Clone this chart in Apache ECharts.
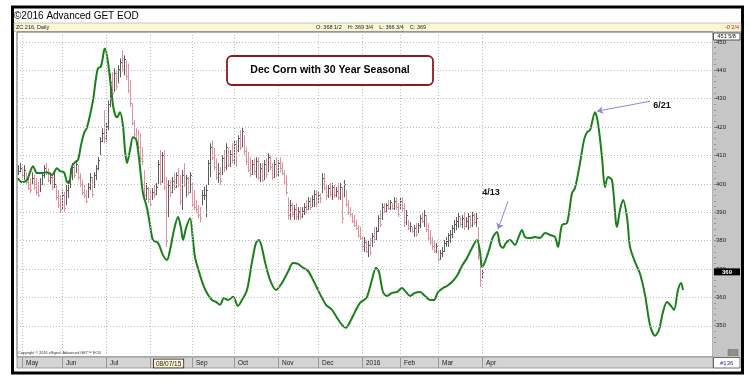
<!DOCTYPE html>
<html><head><meta charset="utf-8">
<script src="https://cdn.jsdelivr.net/npm/echarts@6/dist/echarts.min.js"></script>
<style>html,body{margin:0;padding:0;background:#fff}#c{width:750px;height:384px}</style>
</head><body><div id="c"></div>
<script>
const FONT = '"Liberation Sans", Arial, sans-serif';

// ---- price bars (daily, trading-day index; first bar = day -2, May 1 2015 = day 0)
const firstDay = -2;
const priceHigh = [
406.6,407.3,405.5,406.6,404.1,403.1,402.0,404.1,403.1,402.0,
400.6,402.0,404.1,406.6,407.3,405.5,404.1,403.1,403.8,399.6,
397.8,396.0,397.8,397.1,399.6,401.3,405.5,407.3,406.6,408.4,
406.6,403.8,401.3,399.6,397.8,400.3,403.8,402.4,404.1,406.6,
409.4,416.4,419.6,425.9,421.7,429.4,438.9,439.3,440.7,440.0,
441.8,444.2,447.0,445.3,443.5,442.4,436.5,428.4,422.4,419.6,
418.9,417.8,412.9,404.8,400.3,398.9,397.8,398.5,399.6,400.3,
408.4,411.9,411.2,411.9,402.4,401.3,401.3,402.4,403.8,404.1,
405.5,403.1,404.8,407.3,403.1,402.4,404.1,400.3,397.8,394.3,
392.5,391.8,397.8,398.9,399.6,408.4,414.3,415.4,412.6,409.0,
407.3,405.9,410.1,411.9,414.3,412.6,411.9,414.3,415.4,415.4,
417.1,418.9,419.9,417.1,412.9,411.2,409.4,408.4,409.0,409.4,
409.4,407.3,407.3,408.4,409.0,410.8,410.1,407.3,408.4,409.4,
408.4,409.4,407.6,404.8,403.1,395.3,394.3,393.2,392.5,393.2,
391.8,391.8,391.8,393.2,394.3,395.3,395.3,396.0,397.8,397.8,
397.1,396.7,403.8,403.8,399.6,399.6,400.3,400.3,399.6,398.9,
400.3,400.3,398.9,401.3,397.8,394.3,391.8,389.7,389.0,387.3,
385.5,384.8,381.3,381.3,380.2,380.2,380.9,382.7,384.8,384.8,
389.0,390.8,393.2,393.2,393.2,394.3,394.3,393.2,395.3,395.3,
393.2,395.3,395.3,393.2,390.8,387.3,386.5,384.8,385.5,386.2,
386.2,389.0,389.7,390.8,389.0,386.2,383.7,381.3,380.2,379.2,
376.7,376.7,377.8,380.2,381.3,382.7,383.7,385.5,387.3,388.3,
389.7,388.3,389.0,389.7,388.3,389.7,389.0,390.1,389.7,390.1,
384.8,374.9,369.75];
const priceLow = [
403.1,404.1,402.0,401.3,399.6,397.8,396.7,399.6,397.8,396.0,
395.3,397.1,399.6,402.0,403.1,400.6,399.6,397.8,398.5,394.3,
391.5,389.7,390.8,390.1,392.5,395.0,398.5,401.3,402.0,403.8,
401.3,398.9,396.0,395.0,393.2,395.0,397.8,395.3,398.5,401.3,
404.8,410.1,414.7,414.3,414.7,418.9,427.0,430.1,432.3,433.0,
435.4,437.5,439.3,438.2,436.5,431.9,427.0,420.6,416.1,413.6,
411.9,407.6,406.6,394.3,394.3,393.2,391.8,394.3,395.0,396.0,
399.6,399.6,400.3,397.8,377.8,388.3,395.3,396.7,397.8,398.5,
398.9,392.5,390.8,398.9,395.3,396.0,396.7,391.8,390.8,389.7,
387.9,386.5,392.5,394.3,388.3,399.6,402.4,408.4,404.8,401.3,
400.3,399.6,403.1,404.1,404.8,405.9,405.9,407.3,406.6,405.9,
411.2,411.9,412.9,410.1,406.6,404.1,402.4,403.1,403.1,402.0,
401.3,400.6,400.6,401.3,402.0,404.1,404.8,401.3,402.0,402.4,
402.4,404.1,403.1,399.6,396.0,387.3,387.3,388.3,387.3,387.3,
387.3,387.3,387.9,389.0,389.7,390.8,390.8,391.8,391.8,391.8,
393.2,393.2,396.7,397.8,394.3,395.0,395.3,394.3,395.0,395.3,
394.3,394.3,386.2,395.3,391.8,389.0,388.3,386.2,384.8,383.7,
380.9,380.2,376.7,376.0,375.6,374.2,374.9,377.8,379.2,380.2,
383.0,384.8,387.3,389.7,389.7,390.8,390.8,390.8,390.8,390.8,
388.3,390.8,390.1,384.8,385.5,383.7,383.0,382.7,381.3,381.3,
382.7,384.4,386.2,384.8,383.0,380.2,378.5,376.7,375.6,375.6,
372.5,373.2,374.2,376.0,377.8,377.8,379.2,380.9,382.7,383.7,
384.4,384.8,384.4,383.7,384.8,383.7,384.4,384.8,385.5,384.8,
373.2,363.7,366.75];
const priceClose = [
404.5,405.5,403,405,400.5,398.5,398,402,399,397,
396,400,403,405.5,404,401.5,402.5,399,400,395.5,
392.5,391,396,391.5,398,400.5,404,406,403,407,
402.5,400,397,396,394,399,402.5,396.5,403,405.5,
408.5,415,418,416,420.5,428,436,432,439,434.5,
440.5,443,440.5,444,438,433,428.5,421.5,417.5,415,
413,409,408,396,398.5,394.5,393,397,396.5,399,
407,401,410,399,380,399.5,397,401,399,403,
400,394,403,400,402,397,403,393,392,391,
389,388,396,396,398,407.5,413,409.5,406,402.5,
404,401,409,406,413,407,410.5,408.5,414,412,
416,413,418.5,411.5,408,405,403.5,407,404.5,408,
402.5,405.5,401.5,407,403.5,409.5,406,402.5,407,403.5,
407.5,405.5,404,400.5,397,389,392.5,389.5,391,388.5,
390.5,388.5,390.5,392,391,394,392,394.5,396.5,393,
396,395,402,398.5,396,398.5,396.5,399,396,397.5,
395.5,399,388,400,393,390,389.5,387,385.5,384.5,
382,381,378,379.5,376.5,378.5,376,381.5,380.5,383.5,
388,386,392,390.5,392.5,391.5,393.5,391.5,394,392,
389.5,394,391.5,386.5,389,384.5,385,383.5,384.5,382.5,
385.5,388,387,389,384,381,379.5,378,376.5,378,
373.5,375.5,376.5,379,380,382,382.5,384.5,386,387,
388.5,386,388,385,387,388.5,385.5,389,386.5,388,
375,366,369];

// ---- 30 year seasonal (trading-day index, price-scaled value)
const seasonalDay = [-2,0,2.5,4,5.5,7.5,10,12.5,15,17.5,19,21,22.5,23.5,25,26.5,28,29.5,31,32.5,
34,35.5,37,38,39.5,41,41.5,43,44.5,45.5,46.5,47.5,49,50.5,51.5,52.5,54,55.5,57,58,
59,60.5,62.5,64,65.5,68,70.5,72.5,74,76,78,79.5,80.5,82,84,85.5,86.5,88.5,91,93,
95,97,99,101,103,105.5,108,110,112.5,115,117,118.5,120,121.5,124,127,130,133,135.5,138,
140,143,145.5,147.5,149.5,152,155,157.5,160,162,164,166.5,169,171,172.5,175,177,178.5,180.5,182.5,
185,187.5,190,192,194,196.5,199,201.5,204,206,208,210.5,212.5,215,217.5,220,222.5,225,227.5,229,
230,231.5,233.5,235.5,237.5,239,240.5,242,244,246.5,248.5,250,251.5,254,256.5,259,261.5,264,266.5,268,
270,272.5,275,276.5,279,281,282.5,284,286.5,288,290,291.5,293,295,297.5,299,300.5,302.5,304,306.5,
309,311.5,314,316.5,318.5,320.5,322.5,324.5,326,328,329.5,330.5];
const seasonalValue = [402.0,400.6,401.3,404.1,406.2,403.8,403.8,404.1,403.1,405.5,404.5,404.1,400.6,400.3,406.2,407.6,408.4,413.6,417.8,419.9,
424.2,429.4,437.2,440.7,441.4,447.0,447.7,442.8,433.7,427.7,424.5,423.5,425.2,420.3,411.9,407.3,411.9,416.4,415.7,411.9,
405.9,396.7,391.5,385.5,380.2,379.2,374.9,373.2,376.7,383.7,388.3,384.4,380.2,384.4,387.9,380.2,374.2,369.0,363.7,360.9,
359.1,358.4,357.4,359.8,359.1,360.2,357.0,359.1,362.6,372.5,379.2,380.2,377.4,372.5,366.2,362.6,365.1,369.0,372.1,371.8,
370.7,369.3,366.2,363.3,360.5,357.4,355.6,352.8,350.3,349.3,351.4,354.9,358.1,359.1,360.2,366.2,370.4,369.0,361.9,360.5,
361.6,361.9,363.3,361.9,360.5,361.6,361.9,360.5,359.1,359.1,361.9,363.3,364.0,365.4,367.6,371.1,373.9,377.4,380.2,376.0,
370.7,372.5,376.7,381.3,383.0,378.5,377.4,379.2,380.2,378.5,381.6,383.7,381.3,380.9,381.3,380.9,382.7,382.0,381.3,377.8,
385.5,386.2,396.7,398.5,407.3,415.4,418.2,418.9,425.2,421.4,409.4,398.9,402.4,401.3,384.8,390.8,394.3,388.3,377.8,372.5,
368.3,360.9,350.3,346.5,348.6,354.9,358.4,357.0,355.6,362.6,365.1,362.6];

// ---- axes
const monthStart = [0,20,42,64,85,106,128,148,170,189,208,230];
const monthLabels = ['May','Jun','Jul','08/07/15','Sep','Oct','Nov','Dec','2016','Feb','Mar','Apr'];
const priceTicks = [350,360,370,380,390,400,410,420,430,440,450];
const lastClose = 369;

// ---- annotations
const noteLabels = ['4/13','6/21'];
const noteTip = [[238,384.0],[287.5,425.6]];
const noteTail = [[243,393.9],[314,429.1]];
const noteText = [[234.5,397.1],[320,427.7]];

const minorTicks = [];
for (let v = 340; v <= 452; v += 2) if (v % 10 !== 0) minorTicks.push(v);

const ohlc = priceHigh.map((h, i) => [firstDay + i, h, priceLow[i], priceClose[i], i > 0 ? priceClose[i - 1] : priceClose[i]]);
const seasonal = seasonalDay.map((d, i) => [d, seasonalValue[i]]);

const UP = '#5c5c5c', DOWN = '#e2909c';

const chart = echarts.init(document.getElementById('c'), null, {renderer: 'canvas'});

function txt(id, x, y, text, size, color, extra, z) {
  return {type: 'text', id, x, y, z: z || 50,
    style: Object.assign({text, fontSize: size, fontFamily: FONT, fill: color, verticalAlign: 'middle'}, extra || {})};
}

const graphics = [
  {type: 'rect', id: 'frame', z: -30, shape: {x: 12.5, y: 7, width: 730, height: 366}, style: {fill: '#fff', stroke: '#000', lineWidth: 3}},
  txt('title', 14, 16, '©2016 Advanced GET EOD', 10, '#000'),
  {type: 'rect', id: 'hdr', z: -20, shape: {x: 14, y: 23, width: 727, height: 8.5}, style: {fill: '#fbf6d6', stroke: '#a6a6a0', lineWidth: 0.6}},
  txt('hdr1', 16, 27.3, 'ZC 216, Daily', 5.5, '#222'),
  txt('hdr2', 316, 27.3, 'O: 368 1/2    H: 369 3/4    L: 366 3/4    C: 369', 5.5, '#222'),
  txt('hdr3', 739, 27.3, '-0 2/4', 5.5, '#d01010', {align: 'right'}),
  {type: 'rect', id: 'plotbg', z: -20, shape: {x: 17, y: 32, width: 696, height: 325}, style: {fill: '#fff', stroke: '#666', lineWidth: 1}},
  {type: 'rect', id: 'rpanel', z: -20, shape: {x: 713, y: 32, width: 28, height: 325}, style: {fill: '#c6c6c6'}},
  {type: 'rect', id: 'bbar', z: -20, shape: {x: 17, y: 357, width: 696, height: 11}, style: {fill: '#d4d4d4', stroke: '#8a8a8a', lineWidth: 0.8}},
  {type: 'rect', id: 'cntbox', z: 40, shape: {x: 713.5, y: 357.5, width: 26.5, height: 10.5}, style: {fill: '#fff', stroke: '#444', lineWidth: 0.8}},
  txt('cnt', 726.7, 363, '#136', 6, '#30309a', {align: 'center'}),
  {type: 'rect', id: 'maxbox', z: 40, shape: {x: 713.5, y: 33, width: 26.5, height: 7}, style: {fill: '#fff', stroke: '#333', lineWidth: 0.8}},
  txt('maxt', 726.7, 36.6, '451 5/8', 5.5, '#111', {align: 'center'}),
  {type: 'rect', id: 'icon', z: 40, shape: {x: 728, y: 349.5, width: 10, height: 6}, style: {fill: '#8e8e8e', stroke: '#666', lineWidth: 0.5}},
  txt('copy', 18, 353, 'Copyright © 2016 eSignal Advanced GET™ EOD', 3.8, '#333'),
  {type: 'rect', id: 'notebox', z: 60, shape: {x: 227, y: 56, width: 206, height: 29, r: 5}, style: {fill: '#fff', stroke: '#8b1c1c', lineWidth: 1.8}},
  txt('notet', 330, 70.5, 'Dec Corn with 30 Year Seasonal', 10.5, '#000', {align: 'center', fontWeight: 'bold'}, 70)
];

const yBase = {
  type: 'value', position: 'right', min: 339, max: 453.5,
  axisLine: {show: false, onZero: false}, splitLine: {show: false}, axisTick: {show: false}
};

const option = {
  backgroundColor: '#fff',
  animation: false,
  grid: {left: 17, right: 37, top: 32, bottom: 27, containLabel: false},
  xAxis: {
    type: 'value', min: -2.5, max: 345.5, position: 'bottom',
    axisLine: {show: false, onZero: false}, splitLine: {show: false},
    axisTick: {customValues: monthStart, length: 11, lineStyle: {color: '#9a9a9a', width: 1}},
    axisLabel: {
      customValues: monthStart, align: 'left', margin: 2.5, fontSize: 6.5, color: '#222', fontFamily: FONT,
      padding: [0, 0, 0, 4],
      formatter: v => { const i = monthStart.indexOf(v); const t = monthLabels[i]; return i === 3 ? '{box|' + t + '}' : t; },
      rich: {box: {backgroundColor: '#fdf6d0', borderColor: '#222', borderWidth: 0.8, padding: [1, 2, 0, 2], fontSize: 6.5, color: '#222', fontFamily: FONT}}
    }
  },
  yAxis: [
    Object.assign({}, yBase, {
      axisLabel: {customValues: priceTicks, formatter: v => '-' + v, fontSize: 6, margin: 1, color: '#222', fontFamily: FONT}
    }),
    Object.assign({}, yBase, {
      axisLabel: {customValues: minorTicks, formatter: () => '-', fontSize: 6, margin: 1, color: '#444', fontFamily: FONT}
    })
  ],
  series: [
    {
      type: 'line', name: 'grid', data: [], z: 1, silent: true,
      markLine: {
        silent: true, symbol: 'none', label: {show: false}, animation: false,
        lineStyle: {type: [1, 2], color: '#bdbdbd', width: 1},
        data: priceTicks.map(v => ({yAxis: v})).concat(monthStart.map(d => ({xAxis: d})))
      }
    },
    {
      type: 'custom', name: 'Dec Corn', z: 2, data: ohlc,
      encode: {x: 0, y: [1, 2]},
      renderItem: (params, api) => {
        const d = api.value(0), h = api.value(1), l = api.value(2), c = api.value(3), pc = api.value(4);
        const ph = api.coord([d, h]), pl = api.coord([d, l]), pcl = api.coord([d, c]);
        const x = Math.round(ph[0]) + 0.5;
        const yc = Math.round(pcl[1]) + 0.5;
        const color = c >= pc ? UP : DOWN;
        return {type: 'group', children: [
          {type: 'line', shape: {x1: x, y1: ph[1], x2: x, y2: pl[1]}, style: {stroke: color, lineWidth: 1}},
          {type: 'line', shape: {x1: x, y1: yc, x2: x + 1.5, y2: yc}, style: {stroke: color, lineWidth: 1}}
        ]};
      }
    },
    {
      type: 'line', name: '30 Year Seasonal', z: 3, data: seasonal, smooth: 0.3,
      showSymbol: false, symbol: 'none',
      lineStyle: {color: '#1b7f1b', width: 2},
      markLine: {
        silent: true, symbol: ['none', 'arrow'], symbolSize: 6, label: {show: false},
        lineStyle: {color: '#8a8ad8', width: 1, type: 'solid'},
        itemStyle: {color: '#8a8ad8'},
        data: noteTip.map((t, i) => [{coord: noteTail[i]}, {coord: t}])
      },
      markPoint: {
        silent: true, symbol: 'circle', symbolSize: 1, itemStyle: {color: 'rgba(0,0,0,0)'},
        label: {show: true, position: 'inside', formatter: '{b}', color: '#111', fontWeight: 'bold', fontSize: 9, fontFamily: FONT},
        data: noteLabels.map((n, i) => ({name: n, coord: noteText[i]}))
      }
    }
  ],
  graphic: {elements: graphics}
};
chart.setOption(option);

const py = chart.convertToPixel({yAxisIndex: 0}, lastClose);
chart.setOption({graphic: {elements: [
  {type: 'rect', id: 'lastbox', z: 45, shape: {x: 714, y: py - 3.5, width: 26, height: 7}, style: {fill: '#000'}},
  {type: 'text', id: 'lastt', z: 46, x: 727, y: py, style: {text: String(lastClose), fontSize: 6, fontFamily: FONT, fill: '#fff', align: 'center', verticalAlign: 'middle', fontWeight: 'bold'}}
]}});
</script>
</body></html>
